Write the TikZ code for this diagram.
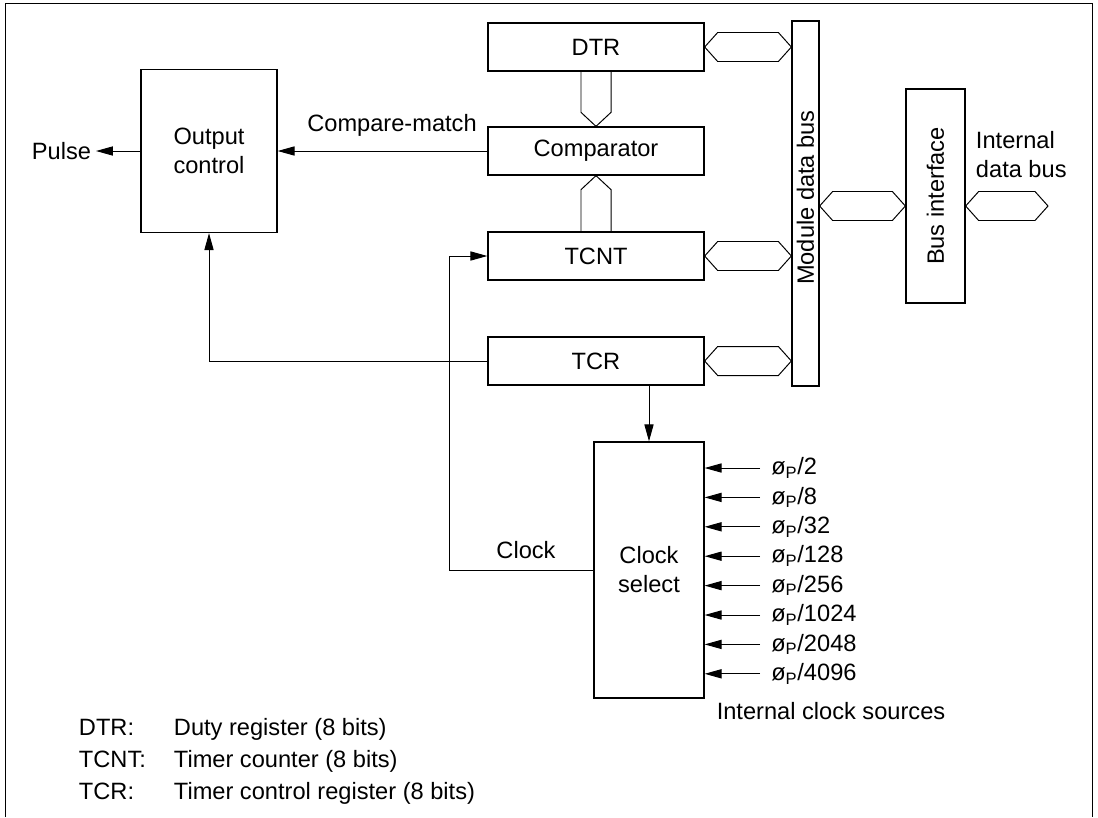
\documentclass[tikz,border=0pt]{standalone}
\usepackage{fontspec}
\setmainfont{Liberation Sans}
\usetikzlibrary{arrows.meta, calc}

\tikzset{
  blk/.style={draw, line width=0.9pt, inner sep=0pt, align=center},
  reg/.style={blk, minimum width=5.4cm, minimum height=1.2cm},
  wire/.style={line width=0.7pt},
  arr/.style={wire, -{Triangle[length=12pt, width=6.5pt]}},
  busline/.style={line width=0.7pt, line join=miter},
  srcnode/.style={anchor=west, inner xsep=7.8pt, inner ysep=0pt},
}
\newcommand{\hbus}[2]{%
  \draw[busline] (#1) -- ($(#1)+(13,-14.5)$) -- ($(#2)+(-13,-14.5)$) -- (#2)
    -- ($(#2)+(-13,14.5)$) -- ($(#1)+(13,14.5)$) -- cycle;}
\newcommand{\vbus}[3]{%
  \draw[busline] ($(#1)+(-15,0)$) -- ($(#2)+(-15,#3)$) -- (#2)
    -- ($(#2)+(15,#3)$) -- ($(#1)+(15,0)$);}

\begin{document}
\begin{tikzpicture}[x=0.025cm, y=-0.025cm, font=\fontsize{16.8}{20.6}\selectfont]
  \useasboundingbox (0,0) rectangle (1098,817);
  \draw[wire] (5,817) -- (5,3) -- (1092,3) -- (1092,817);

  \foreach \n/\t/\y in {dtr/DTR/47, cmp/Comparator/151, tcnt/TCNT/256, tcr/TCR/361} {
    \node[reg] (\n) at (596,\y) {\t};
  }
  \node[blk, minimum width=3.4cm, minimum height=4.075cm] (outctl) at (209,151) {Output\\control};
  \node[blk, minimum width=2.75cm, minimum height=6.4cm] (clksel) at (649,570) {Clock\\select};
  \node[blk, minimum width=0.675cm, minimum height=9.125cm] (mbus) at (805.5,203.5) {};
  \node[rotate=90] (mbustxt) at (805.5,197.5) {Module data bus};
  \node[blk, minimum width=1.475cm, minimum height=5.35cm] (busif) at (935.5,196) {};
  \node[rotate=90] (busiftxt) at (busif) {Bus interface};

  % buses
  \vbus{dtr.south}{cmp.north}{-14}
  \vbus{tcnt.north}{cmp.south}{14}
  \foreach \n in {dtr, tcnt, tcr} {
    \coordinate (\n bus) at (\n.east -| mbus.west);
    \hbus{\n.east}{\n bus}
  }
  \coordinate (mbr) at (mbus.east |- 0,206);
  \coordinate (bil) at (busif.west |- 0,206);
  \coordinate (bir) at (busif.east |- 0,206);
  \coordinate (idb) at (1048,206);
  \hbus{mbr}{bil}
  \hbus{bir}{idb}
  \node[anchor=west, align=left] (idblbl) at (971,155) {Internal\\data bus};

  % signals
  \node[anchor=east] (pulse) at (96,151) {Pulse};
  \draw[arr] (outctl.west) -- (pulse.east);
  \draw[arr] (cmp.west) -- (outctl.east);
  \node (cmlbl) at (392,125) {Compare-match};
  \draw[arr] (tcr.west) -| (outctl.south);
  \draw[arr] (tcr.south -| clksel.north) -- (clksel.north);
  \draw[arr] (clksel.west) -- ++(-144,0) |- (tcnt.west);
  \node (clklbl) at (526,550) {Clock};

  \foreach \d [count=\i from 0] in {2,8,32,128,256,1024,2048,4096} {
    \node[srcnode] (src\i) at (760,{468+29.4*\i}) {ø\textsubscript{P}/\d};
    \draw[arr] (src\i.west) -- (src\i.west -| clksel.east);
  }
  \node (srclbl) at (831,711) {Internal clock sources};

  \foreach \y/\ab/\txt in {735/DTR:/Duty register (8 bits), 767/TCNT:/Timer counter (8 bits),
                           799/TCR:/Timer control register (8 bits)} {
    \node[anchor=base west] (ab\y) at (74,\y) {\ab};
    \node[anchor=base west] (def\y) at (169,\y) {\txt};
  }
\end{tikzpicture}
\end{document}
